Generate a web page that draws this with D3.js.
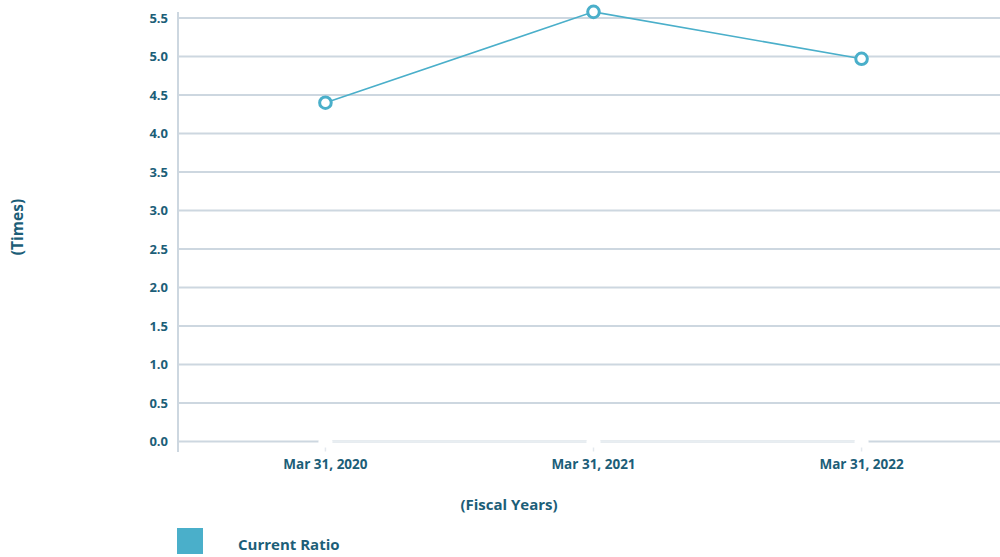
<!DOCTYPE html>
<html>
<head>
<meta charset="utf-8">
<script src="https://cdn.jsdelivr.net/npm/d3@7"></script>
<style>
  html, body { margin: 0; padding: 0; background: #fff; }
  svg { display: block; font-family: "Open Sans", sans-serif; font-weight: 700; }
</style>
</head>
<body>
<svg id="chart" width="1000" height="557"></svg>
<script>
// Current ratio by fiscal year end
const categories = ["Mar 31, 2020", "Mar 31, 2021", "Mar 31, 2022"];
const currentRatio = [4.40, 5.58, 4.97];
const yTicks = [0, 0.5, 1, 1.5, 2, 2.5, 3, 3.5, 4, 4.5, 5, 5.5];
const seriesName = "Current Ratio";

const textColor = "#1c5e78";
const lineColor = "#4aafca";
const gridColor = "#cdd7e0";

const svg = d3.select("#chart");
const plotLeft = 178, plotRight = 1009, plotTop = 18, plotBottom = 441.5;

const x = d3.scalePoint().domain(categories).range([plotLeft, plotRight]).padding(0.55);
const y = d3.scaleLinear().domain([0, 5.5]).range([plotBottom, plotTop]);

// horizontal gridlines
svg.append("g").selectAll("line").data(yTicks).join("line")
  .attr("x1", plotLeft).attr("x2", 1000)
  .attr("y1", d => y(d)).attr("y2", d => y(d))
  .attr("stroke", gridColor).attr("stroke-width", 2);

// category axis: lighter segment between first and last category, gaps at ticks
const xa = svg.append("g");
xa.append("line")
  .attr("x1", x(categories[0])).attr("x2", x(categories[categories.length - 1]))
  .attr("y1", y(0)).attr("y2", y(0))
  .attr("stroke", "#e8eef2").attr("stroke-width", 2);
xa.selectAll("rect.gap").data(categories).join("rect")
  .attr("class", "gap")
  .attr("x", d => x(d) - 7).attr("y", y(0) - 3)
  .attr("width", 14).attr("height", 7).attr("rx", 3)
  .attr("fill", "#fff");
xa.selectAll("line.tick").data(categories).join("line")
  .attr("class", "tick")
  .attr("x1", d => x(d)).attr("x2", d => x(d))
  .attr("y1", y(0) + 6).attr("y2", y(0) + 10)
  .attr("stroke", "#e4e9ee").attr("stroke-width", 1.5);
xa.selectAll("text").data(categories).join("text")
  .attr("x", d => x(d)).attr("y", y(0) + 27)
  .attr("text-anchor", "middle")
  .attr("font-size", 13.5).attr("fill", textColor)
  .text(d => d);

// value axis line and labels
svg.append("line")
  .attr("x1", plotLeft).attr("x2", plotLeft)
  .attr("y1", 12).attr("y2", 452)
  .attr("stroke", gridColor).attr("stroke-width", 2);
svg.append("g").selectAll("text").data(yTicks).join("text")
  .attr("x", 168).attr("y", d => y(d) + 4.5)
  .attr("text-anchor", "end")
  .attr("font-size", 13).attr("fill", textColor)
  .text(d => d3.format(".1f")(d));

// axis titles
svg.append("text")
  .attr("transform", "translate(23,227) rotate(-90)")
  .attr("text-anchor", "middle")
  .attr("font-size", 15.5).attr("fill", textColor)
  .text("(Times)");
svg.append("text")
  .attr("x", 509).attr("y", 510)
  .attr("text-anchor", "middle")
  .attr("font-size", 15).attr("fill", textColor)
  .text("(Fiscal Years)");

// series line and markers
const pts = categories.map((c, i) => ({ c, v: currentRatio[i] }));
svg.append("path")
  .datum(pts)
  .attr("fill", "none")
  .attr("stroke", lineColor).attr("stroke-width", 1.6)
  .attr("d", d3.line().x(d => x(d.c)).y(d => y(d.v)));
svg.append("g").selectAll("circle").data(pts).join("circle")
  .attr("cx", d => x(d.c)).attr("cy", d => y(d.v))
  .attr("r", 5.8)
  .attr("fill", "#fff")
  .attr("stroke", lineColor).attr("stroke-width", 3);

// legend
svg.append("rect")
  .attr("x", 177).attr("y", 528).attr("width", 26).attr("height", 26)
  .attr("fill", lineColor);
svg.append("text")
  .attr("x", 238).attr("y", 550)
  .attr("font-size", 15).attr("fill", textColor)
  .text(seriesName);
</script>
</body>
</html>
